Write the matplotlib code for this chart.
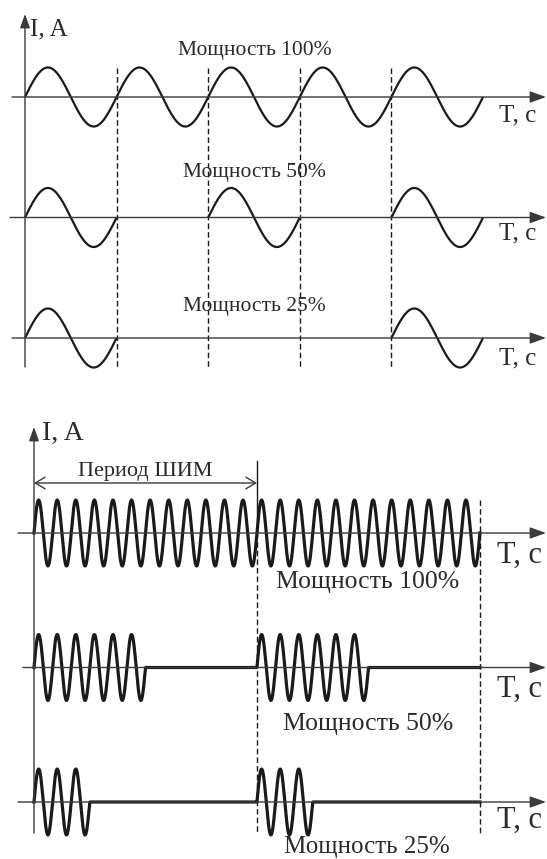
import numpy as np
import matplotlib
matplotlib.use("Agg")
import matplotlib.pyplot as plt

# ---------------- data ----------------
# Top diagram: mains half-period switching (units: sine periods)
top_labels = ["Мощность 100%", "Мощность 50%", "Мощность 25%"]
top_on_periods = [[0, 1, 2, 3, 4], [0, 2, 4], [0, 4]]   # periods with current
top_total_periods = 5
top_dashed = [1, 2, 3, 4]

# Bottom diagram: PWM (units: carrier cycles)
bot_labels = ["Мощность 100%", "Мощность 50%", "Мощность 25%"]
pwm_period_cycles = 12
bot_on_cycles = [12, 6, 3]          # carrier cycles "on" per PWM period
bot_num_periods = 2
bot_dashed = [12, 24]

amp = 0.245
axis_label_y = "I, A"
axis_label_x = "T, c"
pwm_label = "Период ШИМ"

W, H = 547, 859
plt.rcParams['font.family'] = ['Liberation Serif', 'DejaVu Serif']
fig = plt.figure(figsize=(W / 100, H / 100), dpi=100)

LINE = '#1a1a1a'
AX = '#3a3a3a'
TXT = '#2a2a2a'

def arrow(ax, x0, y0, x1, y1, lw=1.0, ms=14):
    ax.annotate('', xy=(x1, y1), xytext=(x0, y0),
                arrowprops=dict(arrowstyle='-|>,head_length=0.7,head_width=0.25',
                                lw=lw, color=AX, shrinkA=0, shrinkB=0,
                                mutation_scale=ms))

# ---------------- top diagram ----------------
# px mapping: x = 25 + 91.6*t ; y = 97 - 120.5*v
tx = lambda p: (p - 25) / 91.6
ty = lambda p: -(p - 97) / 120.5
axT = fig.add_axes([0, 1 - 400 / H, 1, 400 / H])
axT.set_xlim(tx(0), tx(W))
axT.set_ylim(ty(400), ty(0))
axT.axis('off')

row_gap = 1.0
starts_top = [12, 10, 12]
tc_top_y = [115, 233, 358]
for r, (lab, on) in enumerate(zip(top_labels, top_on_periods)):
    base = -r * row_gap
    # horizontal axis
    arrow(axT, tx(starts_top[r]), base, tx(W - 1), base)
    for k in on:
        t = np.linspace(k, k + 1, 200)
        axT.plot(t, base + amp * np.sin(2 * np.pi * t), color=LINE, lw=1.6,
                 solid_capstyle='butt')
    axT.text(tx(499), ty(tc_top_y[r]), axis_label_x, fontsize=18, color=TXT,
             ha='left', va='center')

# label rows
axT.text(tx(254.5), ty(50), top_labels[0], fontsize=15.5, color=TXT,
         ha='center', va='center')
axT.text(tx(254.5), ty(173), top_labels[1], fontsize=15.5, color=TXT,
         ha='center', va='center')
axT.text(tx(254.5), ty(307), top_labels[2], fontsize=15.5, color=TXT,
         ha='center', va='center')

for d in top_dashed:
    axT.plot([d, d], [ty(68), ty(367)], color=LINE, lw=1.0,
             linestyle=(0, (4, 2.2)))
# vertical axis
arrow(axT, 0, ty(367), 0, ty(14), ms=12)
axT.text(tx(30), ty(29), axis_label_y, fontsize=18, color=TXT,
         ha='left', va='center')

# ---------------- bottom diagram ----------------
# px mapping: x = 34 + 18.58*t ; y = 533 - 134.5*v
bx = lambda p: (p - 34) / 18.58
by = lambda p: -(p - 533) / 134.5
axB = fig.add_axes([0, 0, 1, (H - 400) / H])
axB.set_xlim(bx(0), bx(W))
axB.set_ylim(by(H), by(400))
axB.axis('off')

starts_bot = [18, 23, 18]
tc_bot_y = [555, 689, 820]
total = pwm_period_cycles * bot_num_periods
for r, (lab, on) in enumerate(zip(bot_labels, bot_on_cycles)):
    base = -r * row_gap
    arrow(axB, bx(starts_bot[r]), base, bx(W - 1), base)
    t = np.linspace(0, total, 6000)
    gate = (np.mod(t, pwm_period_cycles) < on).astype(float)
    if on == pwm_period_cycles:
        gate[:] = 1.0
    y = base + amp * np.sin(2 * np.pi * t) * gate
    axB.plot(t, y, color=LINE, lw=2.3, solid_joinstyle='round')
    axB.text(bx(497), by(tc_bot_y[r]), axis_label_x,
             fontsize=22, color=TXT, ha='left', va='center')

axB.text(bx(368), by(582), bot_labels[0], fontsize=18.5, color=TXT,
         ha='center', va='center')
axB.text(bx(368), by(724), bot_labels[1], fontsize=18.5, color=TXT,
         ha='center', va='center')
axB.text(bx(367), by(847), bot_labels[2], fontsize=18, color=TXT,
         ha='center', va='center')

# PWM period marker lines
axB.plot([bot_dashed[0]] * 2, [by(461), 0], color=LINE, lw=1.0)
axB.plot([bot_dashed[0]] * 2, [0, by(833)], color=LINE, lw=1.0,
         linestyle=(0, (4, 2.2)))
axB.plot([bot_dashed[1]] * 2, [by(500), by(833)], color=LINE, lw=1.0,
         linestyle=(0, (4, 2.2)))

# PWM period double arrow
axB.annotate('', xy=(0, by(483)), xytext=(pwm_period_cycles, by(483)),
             arrowprops=dict(arrowstyle='<->,head_length=0.5,head_width=0.3',
                             lw=1.0, color=AX, shrinkA=0, shrinkB=0,
                             mutation_scale=14))
axB.text(bx(145), by(472), pwm_label, fontsize=16, color=TXT,
         ha='center', va='center')

arrow(axB, 0, by(833), 0, by(427), ms=12)
axB.text(bx(42), by(433), axis_label_y, fontsize=20, color=TXT,
         ha='left', va='center')

fig.savefig('out.png', dpi=100)
